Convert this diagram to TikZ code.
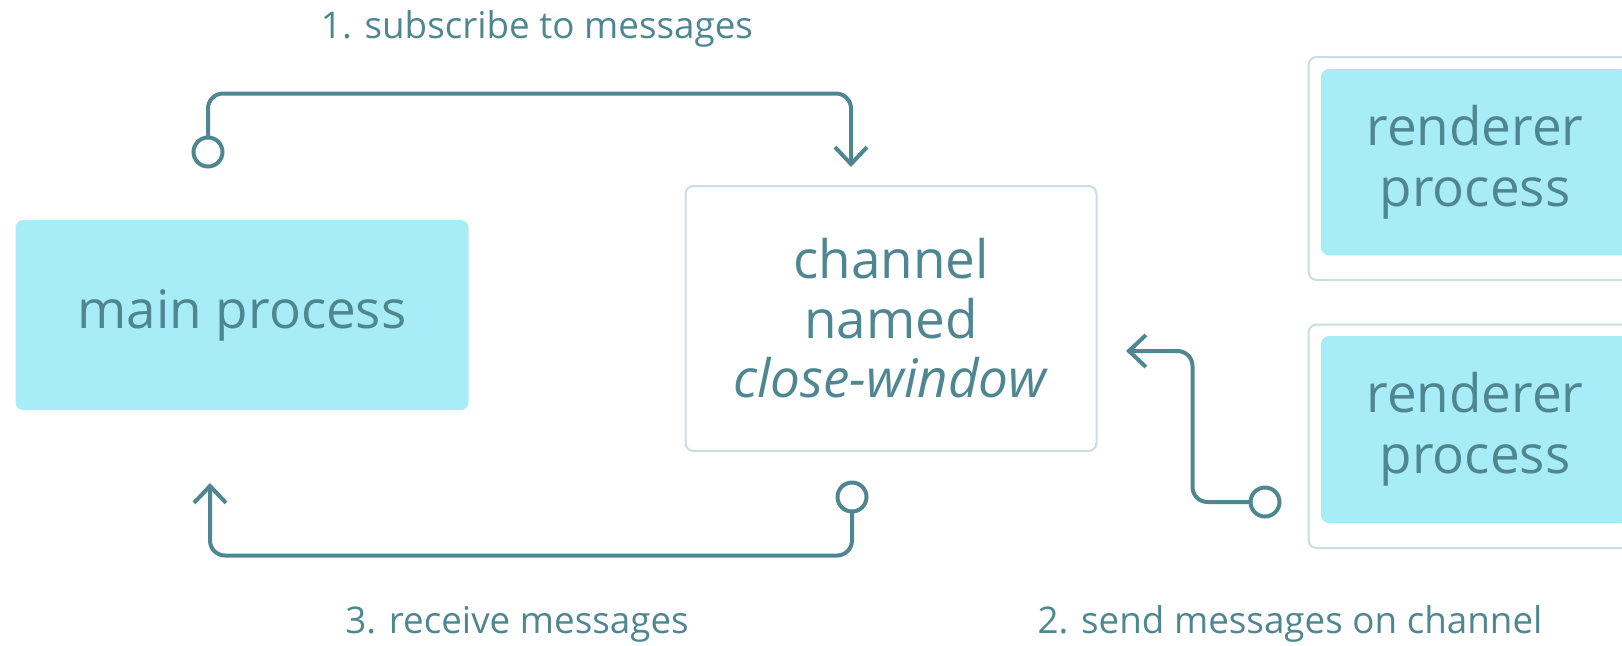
\documentclass[tikz,border=0pt]{standalone}
\usepackage{fontspec}
\setmainfont{Open Sans}
\usetikzlibrary{arrows.meta}
\definecolor{cyanfill}{HTML}{A8ECF7}
\definecolor{teal}{HTML}{4E8791}
\definecolor{bordercol}{HTML}{C8DEE2}
\tikzset{
  proc/.style={fill=cyanfill, draw=none, rounded corners=4pt, text=teal, align=center, inner sep=0pt,
    font=\fontsize{26.5}{29.5}\selectfont},
  rend/.style={proc, font=\fontsize{26.5}{30.5}\selectfont},
  framebox/.style={fill=white, draw=bordercol, line width=1pt, rounded corners=4pt, inner sep=0pt},
  chanbox/.style={framebox, text=teal, align=center, font=\fontsize{26.5}{29.75}\selectfont},
  conn/.style={draw=teal, line width=2pt, rounded corners=7.5pt, line cap=round, line join=round},
  tip/.style={-{Straight Barb[length=8.5pt,width=16pt,line width=2pt]}},
  ring/.style={circle, draw=teal, fill=white, line width=2pt, minimum size=14.5pt, inner sep=0pt, outer sep=0pt},
  lbl/.style={text=teal, font=\fontsize{18.4}{22}\selectfont, inner sep=0pt}
}
\begin{document}
\begin{tikzpicture}[x=0.5pt,y=-0.5pt]
\useasboundingbox (0,0) rectangle (1622,645);
% boxes
\node[proc, minimum width=226.5pt, minimum height=95pt] (main) at (242,315) {main process};
\node[chanbox, minimum width=205.5pt, minimum height=132.5pt] (chan) at (891,318.5) {channel\\named\\\textit{close-window}};
\node[framebox, minimum width=166.7pt, minimum height=111.5pt] (ro1) at (1475.3,168.5) {};
\node[rend, minimum width=154pt, minimum height=93.25pt] (r1) at (1475,162.2) {renderer\\process};
\node[framebox, minimum width=166.7pt, minimum height=111.75pt] (ro2) at (1475.3,436.25) {};
\node[rend, minimum width=154pt, minimum height=93.5pt] (r2) at (1475,429.5) {renderer\\process};
% ends
\coordinate (t1) at (851,167);
\coordinate (t2) at (210,483);
\coordinate (t3) at (1126,351);
\node[ring] (c1) at (208,152) {};
\node[ring] (c2) at (852,497) {};
\node[ring] (c3) at (1265,502) {};
% connectors
\draw[conn,tip] (c1.north) -- ++(0,-44) -| (t1);
\draw[conn,tip] (c2.south) -- ++(0,44) -| (t2);
\draw[conn,tip] (c3.west) -- ++(-58,0) |- (t3);
% labels
\node[lbl] (l1) at (537,29) {1. subscribe to messages};
\node[lbl] (l3) at (517,624) {3. receive messages};
\node[lbl] (l2) at (1290,624) {2. send messages on channel};
\end{tikzpicture}
\end{document}
